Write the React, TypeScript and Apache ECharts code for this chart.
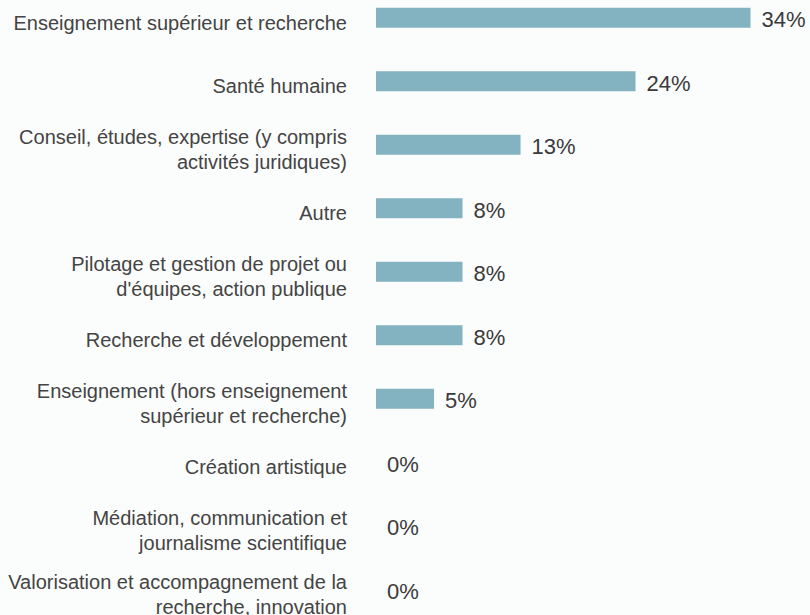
import React, { useEffect, useRef } from "react";
import * as echarts from "echarts";

const categories = [
  "Enseignement supérieur et recherche",
  "Santé humaine",
  "Conseil, études, expertise (y compris\nactivités juridiques)",
  "Autre",
  "Pilotage et gestion de projet ou\nd'équipes, action publique",
  "Recherche et développement",
  "Enseignement (hors enseignement\nsupérieur et recherche)",
  "Création artistique",
  "Médiation, communication et\njournalisme scientifique",
  "Valorisation et accompagnement de la\nrecherche, innovation",
];

const values = [34.2, 23.7, 13.2, 7.9, 7.9, 7.9, 5.3, 0, 0, 0];

export default function App() {
  const ref = useRef<HTMLDivElement>(null);
  useEffect(() => {
    if (!ref.current) return;
    const chart = echarts.init(ref.current, null, { renderer: "svg" });
    const font = "Liberation Sans, Arial, sans-serif";
    chart.setOption({
      animation: false,
      backgroundColor: "#fbfcfc",
      grid: [
        { left: 376, right: 59.5, top: 0, height: 635, containLabel: false },
        { left: 376, right: 59.5, top: 5, height: 635, containLabel: false },
      ],
      xAxis: [
        { type: "value", min: 0, max: 34.2, show: false, gridIndex: 0 },
        { type: "value", min: 0, max: 34.2, show: false, gridIndex: 1 },
      ],
      yAxis: [
        {
          type: "category",
          data: categories,
          inverse: true,
          gridIndex: 0,
          axisLine: { show: false },
          axisTick: { show: false },
          splitLine: { show: false },
          axisLabel: { show: false },
        },
        {
          type: "category",
          data: categories,
          inverse: true,
          gridIndex: 1,
          axisLine: { show: false },
          axisTick: { show: false },
          splitLine: { show: false },
          axisLabel: {
            interval: 0,
            showMinLabel: true,
            showMaxLabel: true,
            hideOverlap: false,
            margin: 29,
            fontFamily: font,
            fontSize: 20,
            color: "#444444",
            lineHeight: 25,
            align: "right",
          },
        },
      ],
      series: [
        {
          type: "bar",
          xAxisIndex: 0,
          yAxisIndex: 0,
          data: values,
          barWidth: 20,
          itemStyle: { color: "#83b3c1" },
          label: {
            show: true,
            position: "right",
            distance: 11,
            offset: [0, 2],
            fontFamily: font,
            fontSize: 22,
            color: "#3a3a3a",
            formatter: (p: any) => Math.round(p.value) + "%",
          },
        },
        {
          type: "bar",
          xAxisIndex: 1,
          yAxisIndex: 1,
          data: values,
          barWidth: 20,
          silent: true,
          itemStyle: { opacity: 0 },
          label: { show: false },
        },
      ],
    });
    return () => chart.dispose();
  }, []);
  return (
    <div
      style={{
        position: "fixed",
        left: 0,
        top: 0,
        width: 810,
        height: 615,
        overflow: "hidden",
        background: "#fbfcfc",
      }}
    >
      <div
        ref={ref}
        style={{ position: "absolute", left: 0, top: -13.75, width: 810, height: 645 }}
      />
    </div>
  );
}
